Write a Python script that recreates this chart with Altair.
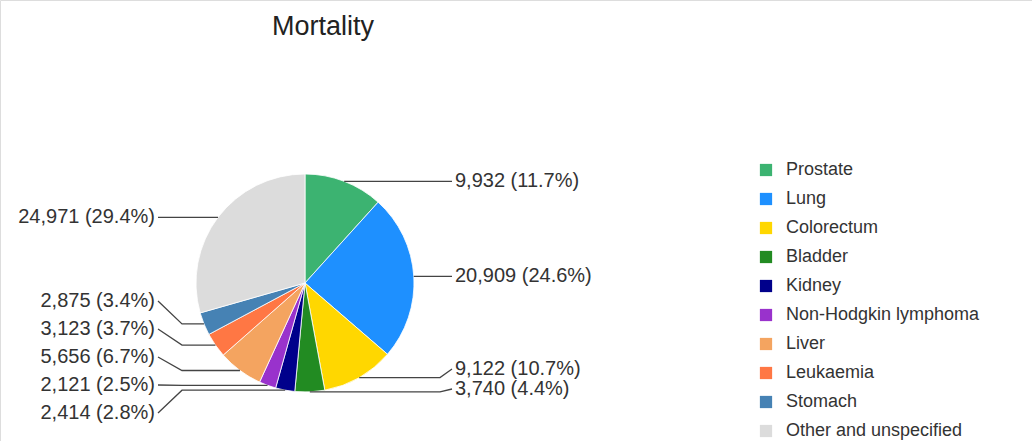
import math
import altair as alt
import pandas as pd

# ---- data ----
categories = ["Prostate", "Lung", "Colorectum", "Bladder", "Kidney",
              "Non-Hodgkin lymphoma", "Liver", "Leukaemia", "Stomach",
              "Other and unspecified"]
deaths = [9932, 20909, 9122, 3740, 2414, 2121, 5656, 3123, 2875, 24971]
colors = ["#3CB371", "#1E90FF", "#FFD700", "#228B22", "#00008B",
          "#9932CC", "#F4A460", "#FF7744", "#4682B4", "#DCDCDC"]

# ---- layout parameters ----
W, H = 1032, 441
CX, CY, R = 305, 283, 109
LEFT_TEXT_X, LEFT_ELBOW_X = 155, 182
RIGHT_TEXT_X, RIGHT_ELBOW_X = 455, 440
GAP_LEFT, GAP_RIGHT = 28, 20
YMAX_LEFT, YMAX_RIGHT = 413, 389
FONT = "Liberation Sans"

total = sum(deaths)
slices = pd.DataFrame({
    "category": categories,
    "deaths": deaths,
    "idx": list(range(len(categories))),
})

# anchor points at each slice's mid angle (clockwise from 12 o'clock)
anchors = []
cum = 0
for i, (c, v) in enumerate(zip(categories, deaths)):
    mid = (cum + v / 2) / total * 2 * math.pi
    cum += v
    ax = CX + R * math.sin(mid)
    ay = CY - R * math.cos(mid)
    side = "right" if math.sin(mid) >= 0 else "left"
    label = f"{v:,} ({v / total * 100:.1f}%)"
    anchors.append(dict(category=c, ax=ax, ay=ay, side=side, label=label))


def spread(items, gap, ymax):
    items = sorted(items, key=lambda a: a["ay"])
    ys = []
    for a in items:
        y = a["ay"] if not ys else max(a["ay"], ys[-1] + gap)
        ys.append(y)
    for k in range(len(ys) - 1, -1, -1):
        lim = ymax if k == len(ys) - 1 else ys[k + 1] - gap
        ys[k] = min(ys[k], lim)
    for a, y in zip(items, ys):
        a["ly"] = y


spread([a for a in anchors if a["side"] == "left"], GAP_LEFT, YMAX_LEFT)
spread([a for a in anchors if a["side"] == "right"], GAP_RIGHT, YMAX_RIGHT)

line_rows, text_rows = [], []
for a in anchors:
    if a["side"] == "left":
        pts = [(LEFT_TEXT_X + 3, a["ly"]), (LEFT_ELBOW_X, a["ay"]), (a["ax"], a["ay"])]
        tx, align = LEFT_TEXT_X, "right"
    else:
        pts = [(a["ax"], a["ay"]), (RIGHT_ELBOW_X, a["ay"]), (RIGHT_TEXT_X - 3, a["ly"])]
        tx, align = RIGHT_TEXT_X, "left"
    for k, (px, py) in enumerate(pts):
        line_rows.append(dict(category=a["category"], px=px, py=py, k=k))
    text_rows.append(dict(category=a["category"], tx=tx, ty=a["ly"],
                          label=a["label"], align=align))

lines_df = pd.DataFrame(line_rows)
texts_df = pd.DataFrame(text_rows)

xs = alt.Scale(domain=[0, W], nice=False, zero=False)
ys = alt.Scale(domain=[H, 0], nice=False, zero=False)

pie = alt.Chart(slices).mark_arc(radius=R, stroke="white", strokeWidth=0.8).encode(
    theta=alt.Theta("deaths:Q", stack=True),
    order=alt.Order("idx:Q", sort="ascending"),
    color=alt.Color(
        "category:N",
        scale=alt.Scale(domain=categories, range=colors),
        sort=categories,
        legend=alt.Legend(
            title=None, orient="none", legendX=757, legendY=161,
            symbolType="square", symbolSize=150, symbolStrokeWidth=0,
            labelFont=FONT, labelFontSize=18, labelColor="#333333",
            labelOffset=11, rowPadding=11, padding=0,
            labelLimit=400,
        ),
    ),
    x=alt.value(CX),
    y=alt.value(CY),
)

leaders = alt.Chart(lines_df).mark_line(color="#444444", strokeWidth=1.3).encode(
    x=alt.X("px:Q", scale=xs, axis=None),
    y=alt.Y("py:Q", scale=ys, axis=None),
    detail="category:N",
    order="k:Q",
)

left_text = alt.Chart(texts_df[texts_df["align"] == "right"]).mark_text(
    align="right", baseline="middle", font=FONT, fontSize=20, color="#333333"
).encode(
    x=alt.X("tx:Q", scale=xs, axis=None),
    y=alt.Y("ty:Q", scale=ys, axis=None),
    text="label:N",
)

right_text = alt.Chart(texts_df[texts_df["align"] == "left"]).mark_text(
    align="left", baseline="middle", font=FONT, fontSize=20, color="#333333"
).encode(
    x=alt.X("tx:Q", scale=xs, axis=None),
    y=alt.Y("ty:Q", scale=ys, axis=None),
    text="label:N",
)

chart = alt.layer(pie, leaders, left_text, right_text).properties(
    width=W, height=H,
    autosize=alt.AutoSizeParams(type="none"),
    padding=0,
    title=alt.TitleParams(
        "Mortality", anchor="start", dx=272, dy=62, offset=0,
        baseline="alphabetic", font=FONT, fontSize=27,
        fontWeight="normal", color="#222222",
    ),
).configure_view(stroke=None).configure(background="white")

chart.save("out.html", embed_options={"renderer": "svg", "actions": False})
